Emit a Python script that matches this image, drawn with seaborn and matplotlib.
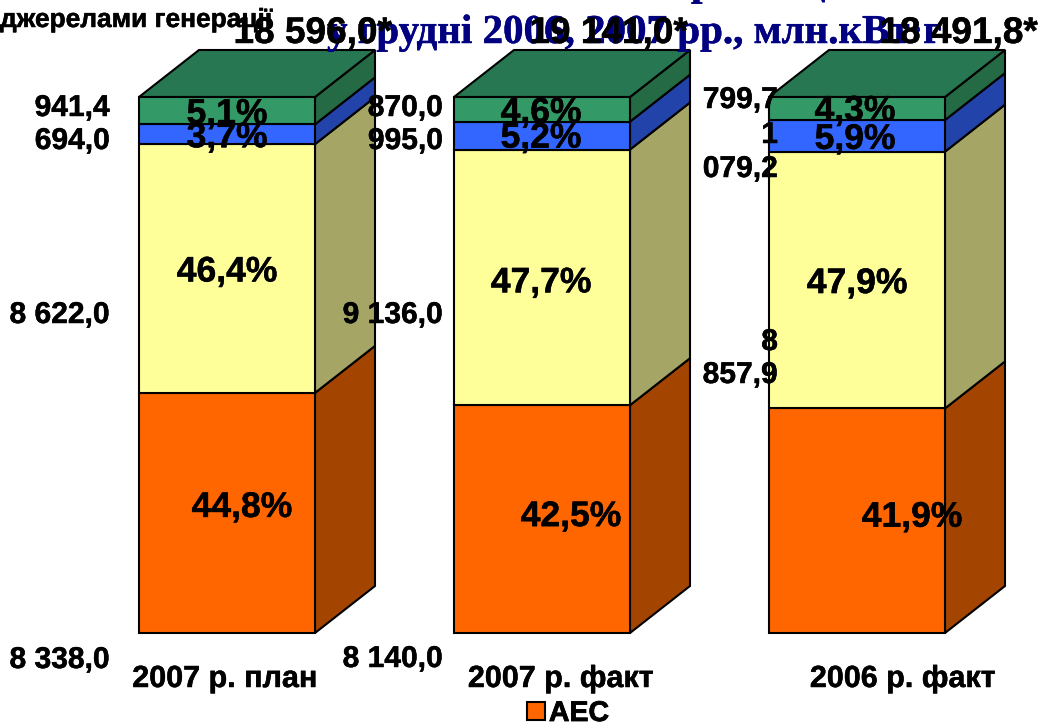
import matplotlib
matplotlib.use("Agg")
import matplotlib.pyplot as plt
import matplotlib.patheffects as pe
import numpy as np
import seaborn as sns

# ---- data ----
periods = ["2007 р. план", "2007 р. факт", "2006 р. факт"]
series_names = ["АЕС", "ТЕС", "ГЕС", "Інші"]
aes_pct = [44.8, 42.5, 41.9]
tes_pct = [46.4, 47.7, 47.9]
hes_pct = [3.7, 5.2, 5.9]
other_pct = [5.1, 4.6, 4.3]
aes_val = ["8 338,0", "8 140,0", "8\n857,9"]
tes_val = ["8 622,0", "9 136,0", None]
totals = ["18 596,0*", "19 141,0*", "18 491,8*"]
aes_lbl = ["44,8%", "42,5%", "41,9%"]
tes_lbl = ["46,4%", "47,7%", "47,9%"]
hes_lbl = ["3,7%", "5,2%", "5,9%"]
other_lbl = ["5,1%", "4,6%", "4,3%"]
title_line = "у грудні 2006, 2007 рр., млн.кВт·г"
subtitle_a = "Виробіток (відпуск) електроенергії за"
subtitle_b = "джерелами генерації"

# ---- style ----
W, H = 1042, 724
sns.set_theme(style="white")
plt.rcParams["font.family"] = ["Liberation Sans", "DejaVu Sans"]
front = ["#FF6600", "#FFFF99", "#3366FF", "#339966"]
side = ["#A34400", "#A5A566", "#2244AA", "#246A44"]
top_col = "#277852"
LW = 1.5

fig = plt.figure(figsize=(W / 100, H / 100), dpi=100)
ax = fig.add_axes([0, 0, 1, 1])
layers = [aes_pct, tes_pct, hes_pct, other_pct]
bar_w = 176 / 315
dx, dy = 60 / 315, 47 / 536 * 100

bottom = np.zeros(3)
for k, vals in enumerate(layers):
    vals = np.array(vals)
    sns.barplot(x=periods, y=vals, bottom=bottom, color=front[k], saturation=1,
                width=bar_w, edgecolor="black", linewidth=LW, ax=ax, zorder=3,
                label=series_names[0] if k == 0 else None, legend=False, errorbar=None)
    for i in range(3):
        xr = i + bar_w / 2
        ax.fill([xr, xr + dx, xr + dx, xr],
                [bottom[i], bottom[i] + dy, bottom[i] + vals[i] + dy, bottom[i] + vals[i]],
                facecolor=side[k], edgecolor="black", linewidth=LW, zorder=2)
    bottom = bottom + vals

for i in range(3):
    xl, xr = i - bar_w / 2, i + bar_w / 2
    t = bottom[i]
    ax.fill([xl, xr, xr + dx, xl + dx], [t, t, t + dy, t + dy],
            facecolor=top_col, edgecolor="black", linewidth=LW, zorder=2)

ax.set_xlim(-227 / 315, (W - 227) / 315)
ax.set_ylim(-(H - 633) / 536 * 100, 633 / 536 * 100)
ax.set_axis_off()

def thicken(color="black", w=0.35):
    return [pe.withStroke(linewidth=w, foreground=color)]

def px_text(x, y, s, size_px, ha="left", **kw):
    kw.setdefault("fontweight", "bold")
    color = kw.setdefault("color", "black")
    return fig.text(x / W, 1 - y / H, s, fontsize=size_px * 0.72, ha=ha, va="baseline",
                    zorder=kw.pop("zorder", 10), path_effects=thicken(color), **kw)

# titles (partly cut off by the top edge)
serif = ["Liberation Serif", "DejaVu Serif"]
px_text(640, -5, "Виробництво", 41, color="#000080", family=serif, zorder=5)
px_text(327, 43, title_line, 41, color="#000080", family=serif, zorder=5)
px_text(-25, -6, subtitle_a, 26.3)
px_text(0, 27, subtitle_b, 26.3)

# totals
for x, s in zip([392, 688, 1038], totals):
    px_text(x, 43, s, 37, ha="right")

# percent labels
x_off = [[15, 29, 55], [0, -1, 0], [0, -1, -2], [0, -1, -2]]
y_off = [[9, 6, 7], [0, -2, 0], [0, 1, 0], [0, 0, 1]]
all_lbl = [aes_lbl, tes_lbl, hes_lbl, other_lbl]
base = np.zeros(3)
for k, vals in enumerate(layers):
    for i in range(3):
        ax.annotate(all_lbl[k][i], xy=(i, base[i] + vals[i] / 2), xycoords="data",
                    xytext=(x_off[k][i], y_off[k][i]), textcoords="offset pixels",
                    ha="center", va="center_baseline", fontsize=35.5 * 0.72,
                    fontweight="bold", color="black", zorder=10,
                    path_effects=thicken())
    base = base + np.array(vals)

# value labels
px_text(110, 116, "941,4", 30, ha="right")
px_text(110, 149, "694,0", 30, ha="right")
px_text(110, 323, tes_val[0], 30, ha="right")
px_text(110, 668, aes_val[0], 30, ha="right")
px_text(443, 116, "870,0", 30, ha="right")
px_text(443, 149, "995,0", 30, ha="right")
px_text(443, 323, tes_val[1], 30, ha="right")
px_text(443, 667, aes_val[1], 30, ha="right")
px_text(778, 108, "799,7", 30, ha="right")
px_text(778, 143, "1", 30, ha="right")
px_text(778, 177, "079,2", 30, ha="right")
px_text(778, 350, aes_val[2].split("\n")[0], 30, ha="right")
px_text(778, 383, aes_val[2].split("\n")[1], 30, ha="right")

# category labels
for x, s in zip([225, 561, 903], periods):
    px_text(x, 687, s, 30.5, ha="center")

# legend (only first entry visible)
handles, labels = ax.get_legend_handles_labels()
handles, labels = handles[:1], labels[:1]
leg = ax.legend(handles, labels, loc="center", bbox_to_anchor=(568 / W, 1 - 713 / H),
                bbox_transform=fig.transFigure, frameon=False, handlelength=0.62,
                handleheight=0.62, handletextpad=0.15, borderpad=0, labelcolor="black",
                prop={"family": "Liberation Sans", "weight": "bold", "size": 28.5 * 0.72})
leg.set_zorder(12)
for t in leg.get_texts():
    t.set_fontweight("bold")
    t.set_path_effects(thicken(w=0.6))

fig.savefig("out.png", dpi=100, facecolor="white")
